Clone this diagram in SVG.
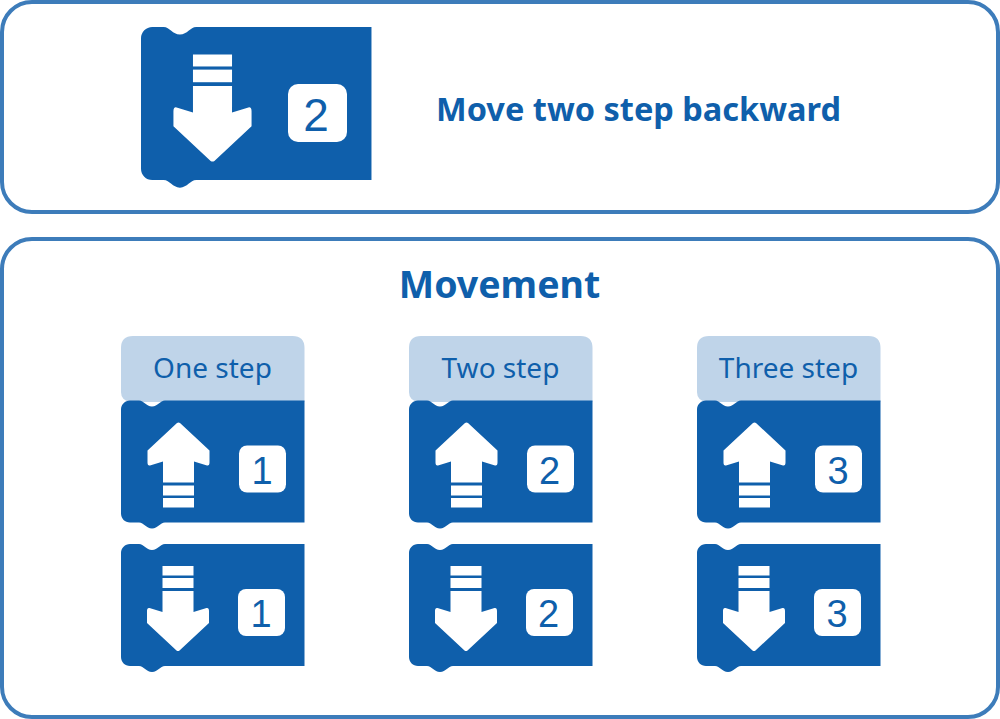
<svg xmlns="http://www.w3.org/2000/svg" width="1000" height="719" viewBox="0 0 1000 719">
<style>
.panel{fill:#fff;stroke:#3d7cba;stroke-width:4}
.blue{fill:#0f5fab}
.white{fill:#fff}
.tab{fill:#bfd4e9}
.title{font-family:"Noto Sans","Open Sans",sans-serif;font-weight:700;fill:#0f5fab;text-anchor:middle}
.head{font-family:"Noto Sans","Open Sans",sans-serif;font-size:28px;fill:#0f5fab;text-anchor:middle}
.num{font-family:"Liberation Sans",Arial,sans-serif;fill:#0f5fab;text-anchor:middle}
</style>
<defs>
<path id="block" class="blue" d="M9,0H18C23,0 25,6 31,6C37,6 39,0 44,0H183.500V122H44C39,122 37,128 31,128C25,128 23,122 18,122H9C4,122 0,118 0,113V9C0,4 4,0 9,0Z"/>
<g id="arrow" class="white">
<rect x="-15.500" y="0" width="31" height="9.500"/>
<rect x="-15.500" y="12" width="31" height="10"/>
<path d="M-15.500,25H15.500V46L28.500,42Q31,41.500 31,45V57L1.500,84.500Q0,85.500 -1.500,84.500L-31,57V45Q-31,41.500 -28.500,42L-15.500,46Z"/>
</g>
<g id="upBlock"><use href="#block"/><use href="#arrow" transform="translate(57.500,107) scale(1,-1)"/><rect class="white" x="118" y="45" width="47" height="47" rx="8"/></g>
<g id="downBlock"><use href="#block"/><use href="#arrow" transform="translate(57,22)"/><rect class="white" x="117" y="45" width="47" height="47" rx="8"/></g>
</defs>
<rect class="panel" x="2" y="2" width="996" height="210" rx="30"/>
<rect class="panel" x="2" y="239" width="996" height="478" rx="30"/>
<g id="example">
<use href="#block" transform="translate(141,27) scale(1.256,1.255)"/>
<use href="#arrow" transform="translate(212.500,54.500) scale(1.26)"/>
<rect class="white" x="288" y="84" width="59" height="58" rx="10"/>
<text class="num" x="316" y="131" font-size="46">2</text>
</g>
<text id="example-label" class="title" x="638.500" y="120.500" font-size="32.500">Move two step backward</text>
<text id="movement-title" class="title" x="499.500" y="298" font-size="37.500">Movement</text>
<g id="col-one">
<path class="tab" d="M133,336H292.500Q304.500,336 304.500,348V402H130Q121,400 121,392V348Q121,336 133,336Z"/>
<text class="head" x="212.500" y="378">One step</text>
<use href="#upBlock" transform="translate(121,400.500)"/>
<text class="num" x="262" y="484" font-size="38">1</text>
<use href="#downBlock" transform="translate(121,544)"/>
<text class="num" x="261" y="627" font-size="38">1</text>
</g>
<g id="col-two">
<path class="tab" d="M421,336H580.500Q592.500,336 592.500,348V402H418Q409,400 409,392V348Q409,336 421,336Z"/>
<text class="head" x="500.500" y="378">Two step</text>
<use href="#upBlock" transform="translate(409,400.500)"/>
<text class="num" x="549.500" y="484" font-size="38">2</text>
<use href="#downBlock" transform="translate(409,544)"/>
<text class="num" x="548.500" y="627" font-size="38">2</text>
</g>
<g id="col-three">
<path class="tab" d="M709,336H868.500Q880.500,336 880.500,348V402H706Q697,400 697,392V348Q697,336 709,336Z"/>
<text class="head" x="788.500" y="378">Three step</text>
<use href="#upBlock" transform="translate(697,400.500)"/>
<text class="num" x="838" y="484" font-size="38">3</text>
<use href="#downBlock" transform="translate(697,544)"/>
<text class="num" x="837" y="627" font-size="38">3</text>
</g>
</svg>
